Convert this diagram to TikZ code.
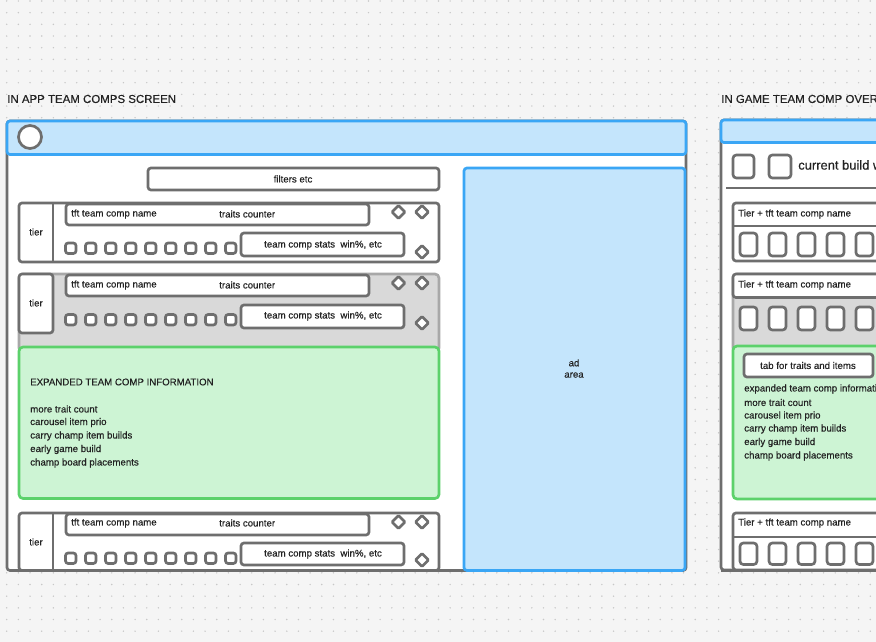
\documentclass[tikz,border=0pt]{standalone}
\usepackage{fontspec}
\setmainfont{Liberation Sans}[FakeBold=0.35]
\definecolor{bg}{HTML}{F5F5F5}
\definecolor{dotc}{HTML}{C8C8C8}
\definecolor{gstroke}{HTML}{6E6E6E}
\definecolor{lgstroke}{HTML}{A8A8A8}
\definecolor{gfill}{HTML}{D9D9D9}
\definecolor{bstroke}{HTML}{3AA6F5}
\definecolor{bfill}{HTML}{C4E5FC}
\definecolor{grstroke}{HTML}{5CD16B}
\definecolor{grfill}{HTML}{CDF4D4}
\definecolor{txt}{HTML}{222222}
\tikzset{
  box/.style={draw=gstroke, line width=2pt, rounded corners=2.2pt, fill=white},
  bluebox/.style={draw=bstroke, line width=2pt, rounded corners=2.2pt, fill=bfill},
  greenbox/.style={draw=grstroke, line width=2pt, rounded corners=3pt, fill=grfill},
  graybox/.style={draw=lgstroke, line width=2pt, rounded corners=3pt, fill=gfill},
  sq/.style={draw=gstroke, line width=2pt, rounded corners=2pt, fill=white},
  dia/.style={draw=gstroke, line width=2pt, rounded corners=0.8pt, fill=white},
  lbl/.style={font=\fontsize{7.25}{9}\selectfont, text=txt, inner sep=0pt},
  title/.style={font=\fontsize{8.6}{11}\selectfont, text=txt, inner sep=0pt},
}
\newcommand{\compdia}[2]{\draw[dia] (#1,#2-6.5) -- (#1+6.5,#2) -- (#1,#2+6.5) -- (#1-6.5,#2) -- cycle;}
\begin{document}
\begin{tikzpicture}[x=0.75pt,y=-0.75pt]
\useasboundingbox (0,0) rectangle (876,642);
\clip (0,0) rectangle (876,642);
\fill[bg] (0,0) rectangle (876,642);
\foreach \i in {0,...,75}{
  \foreach \j in {0,...,55}{
    \fill[dotc] (6.7+11.67*\i,1+11.67*\j) circle[radius=0.6pt];
  }
}
% ---------- titles
\node[title, anchor=west] (t1) at (7,99) {IN APP TEAM COMPS SCREEN};
\node[title, anchor=west] (t2) at (721,99) {IN GAME TEAM COMP OVER};

% ---------- main frame
\draw[box] (7,121) rectangle (686,570.5);
\draw[bluebox] (7,121) rectangle (686,154.5);
\draw[draw=gstroke, line width=2pt, fill=white] (30,137) circle[radius=11.5];

\draw[box] (148,168) rectangle (439,190);
\node[lbl] (filt) at (293,179) {filters etc};

% ---------- row 1
\draw[box] (19,203) rectangle (439,262);
\draw[draw=gstroke, line width=2pt] (53,203) -- (53,262);
\node[lbl] (tier1) at (36,232) {tier};
\draw[box] (66,204) rectangle (369,225);
\node[lbl, anchor=west] (n1) at (71,214) {tft team comp name};
\node[lbl, anchor=west] (c1) at (219,214) {traits counter};
\foreach \k in {0,...,8}{ \draw[sq] (65.5+20*\k,243) rectangle ++(10.5,10.5); }
\draw[box] (241,233) rectangle (404,256);
\node[lbl] (s1) at (323,245) {team comp stats\ \ win\%, etc};
\compdia{398.5}{212}
\compdia{422}{212}
\compdia{422}{252}

% ---------- row 2 (expanded)
\draw[graybox] (19,274) rectangle (439,352);
\draw[box] (19,274) rectangle (53,333);
\node[lbl] (tier2) at (36,303) {tier};
\draw[box] (66,275) rectangle (369,296);
\node[lbl, anchor=west] (n2) at (71,285) {tft team comp name};
\node[lbl, anchor=west] (c2) at (219,285) {traits counter};
\foreach \k in {0,...,8}{ \draw[sq] (65.5+20*\k,314.5) rectangle ++(10.5,10.5); }
\draw[box] (241,305) rectangle (404,328);
\node[lbl] (s2) at (323,316) {team comp stats\ \ win\%, etc};
\compdia{398.5}{283}
\compdia{422}{283}
\compdia{422}{323}

\draw[greenbox] (19,347) rectangle (439,498.5);
\node[lbl, anchor=west] (e0) at (30,382) {EXPANDED TEAM COMP INFORMATION};
\node[lbl, anchor=west] (e1) at (30,409) {more trait count};
\node[lbl, anchor=west] (e2) at (30,422.5) {carousel item prio};
\node[lbl, anchor=west] (e3) at (30,436) {carry champ item builds};
\node[lbl, anchor=west] (e4) at (30,449.5) {early game build};
\node[lbl, anchor=west] (e5) at (30,463) {champ board placements};

% ---------- row 3
\draw[box] (19,513) rectangle (439,570.5);
\draw[draw=gstroke, line width=2pt] (53,513) -- (53,570.5);
\node[lbl] (tier3) at (36,542) {tier};
\draw[box] (66,514) rectangle (369,535);
\node[lbl, anchor=west] (n3) at (71,523) {tft team comp name};
\node[lbl, anchor=west] (c3) at (219,523) {traits counter};
\foreach \k in {0,...,8}{ \draw[sq] (65.5+20*\k,553) rectangle ++(10.5,10.5); }
\draw[box] (241,543) rectangle (404,565);
\node[lbl] (s3) at (323,554) {team comp stats\ \ win\%, etc};
\compdia{398.5}{522}
\compdia{422}{522}
\compdia{422}{560}

% ---------- ad area
\draw[bluebox] (464,168) rectangle (685,570.5);
\node[lbl, align=center] (ad) at (574,368.5) {ad\\[-0.5pt]area};

% ---------- right frame
\draw[box] (721,120) rectangle (900,570);
\draw[bluebox] (721,120) rectangle (900,142.5);
\draw[sq, rounded corners=2.5pt] (733,155) rectangle (754,178);
\draw[sq, rounded corners=2.5pt] (769,155) rectangle (791,178);
\node[font=\fontsize{9.7}{11}\selectfont, text=txt, inner sep=0pt, anchor=west] (cb) at (798,165) {current build w};
\draw[draw=gstroke, line width=2pt] (726,188) -- (900,188);

% right row 1
\draw[box] (733,203) rectangle (900,261);
\draw[draw=gstroke, line width=2pt] (733,226) -- (900,226);
\node[lbl, anchor=west] (r1) at (738,214) {Tier + tft team comp name};
\foreach \k in {0,...,4}{ \draw[sq, rounded corners=2.5pt] (740+29*\k,233) rectangle ++(17,23); }

% right row 2
\draw[graybox] (733,274) rectangle (900,352);
\draw[box] (733,274) rectangle (900,297.5);
\node[lbl, anchor=west] (r2) at (738,285) {Tier + tft team comp name};
\foreach \k in {0,...,4}{ \draw[sq, rounded corners=2.5pt] (740+29*\k,307) rectangle ++(17,23); }
\draw[greenbox] (733,346) rectangle (900,499);
\draw[box] (744,354) rectangle (873,377);
\node[lbl] (tab) at (808,365.5) {tab for traits and items};
\node[lbl, anchor=west] (x0) at (744,389) {expanded team comp information};
\node[lbl, anchor=west] (x1) at (744,402.5) {more trait count};
\node[lbl, anchor=west] (x2) at (744,416) {carousel item prio};
\node[lbl, anchor=west] (x3) at (744,429) {carry champ item builds};
\node[lbl, anchor=west] (x4) at (744,442.5) {early game build};
\node[lbl, anchor=west] (x5) at (744,456) {champ board placements};

% right row 3
\draw[box] (733,513) rectangle (900,570);
\draw[draw=gstroke, line width=2pt] (733,537) -- (900,537);
\node[lbl, anchor=west] (r3) at (738,523) {Tier + tft team comp name};
\foreach \k in {0,...,4}{ \draw[sq, rounded corners=2.5pt] (740+29*\k,543) rectangle ++(17,21.5); }
\draw[draw=gstroke, line width=2pt] (721,570.5) -- (900,570.5);
\end{tikzpicture}
\end{document}
